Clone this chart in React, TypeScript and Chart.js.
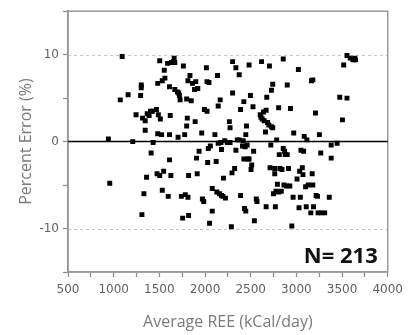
import React, { useEffect, useRef } from "react";
import { Chart, registerables } from "chart.js";

Chart.register(...registerables);

// Average REE (kCal/day)
const reeValues: number[] = [
  942, 957, 1093, 1072, 1158, 1209, 1245, 1302, 1302, 1295, 1309, 1316, 1331, 1345, 1345, 1360, 1367, 1388, 1403, 1410,
  1424, 1432, 1468, 1475, 1489, 1482, 1504, 1504, 1511, 1482, 1525, 1532, 1547, 1532, 1554, 1561, 1590, 1597, 1611, 1611,
  1611, 1619, 1626, 1633, 1655, 1662, 1669, 1669, 1698, 1705, 1712, 1720, 1727, 1741, 1755, 1763, 1777, 1784, 1799, 1799,
  1806, 1813, 1813, 1820, 1820, 1835, 1849, 1863, 1885, 1892, 1899, 1907, 1914, 1921, 1935, 1964, 1971, 1986, 1993, 2015,
  2022, 2022, 2029, 2036, 2043, 2050, 2058, 2079, 2079, 2108, 2122, 2129, 2137, 2144, 2144, 2158, 2166, 2173, 2180, 2180,
  2195, 2202, 2216, 2223, 2245, 2266, 2274, 2274, 2288, 2295, 2302, 2302, 2324, 2338, 2338, 2353, 2374, 2374, 2389, 2389,
  2410, 2417, 2425, 2425, 2432, 2439, 2446, 2446, 2454, 2461, 2468, 2482, 2482, 2497, 2504, 2511, 2525, 2532, 2540, 2561,
  2569, 2604, 2612, 2619, 2626, 2640, 2648, 2662, 2669, 2669, 2676, 2684, 2698, 2705, 2712, 2720, 2727, 2727, 2741, 2741,
  2749, 2763, 2763, 2770, 2777, 2784, 2792, 2806, 2806, 2813, 2820, 2835, 2842, 2856, 2856, 2864, 2871, 2878, 2892, 2900,
  2900, 2914, 2928, 2935, 2950, 2964, 2971, 3007, 3022, 3029, 3036, 3043, 3050, 3065, 3072, 3079, 3086, 3101, 3108, 3115,
  3130, 3158, 3165, 3180, 3173, 3180, 3187, 3209, 3216, 3231, 3238, 3252, 3267, 3274, 3310, 3360, 3381, 3381, 3446, 3475,
  3504, 3518, 3554, 3554, 3590, 3619, 3640, 3647,
];

// Percent Error (%)
const errorValues: number[] = [
  0.3, -4.8, 9.8, 4.8, 5.4, 0.0, 3.1, 6.5, 6.2, 5.3, -8.4, 2.7, -6.0, 2.4, 1.3, -4.1, 3.2, 3.0, 3.5, -1.3,
  3.5, -0.1, 3.7, -3.7, 3.1, 6.7, 9.3, -3.9, 2.6, 0.9, 0.8, 7.0, -3.4, -5.6, 8.2, 7.3, 9.0, -6.3, 6.3, -2.1,
  0.8, 3.0, -3.9, 9.1, 9.2, 9.6, 9.1, 6.0, 5.7, 0.5, 5.6, 5.3, 4.8, -6.3, -8.8, 8.7, 0.8, -6.1, 1.8, 4.9,
  2.7, 7.0, -6.4, -8.5, -3.9, 7.6, 4.7, 6.7, 6.0, 2.3, 6.9, -1.9, -3.7, 6.1, -1.1, 1.0, -6.6, -6.9, 3.7, 8.5,
  6.9, 3.5, -2.4, -0.8, 6.8, -9.4, -0.5, -8.0, -5.4, 0.8, -2.3, -5.8, 7.6, 4.1, -0.2, -6.0, 4.8, -0.1, -0.9, -6.2,
  -6.3, -4.2, 0.1, -6.5, -0.1, 2.3, 1.6, -0.1, -9.8, -3.6, 9.2, 5.6, -3.1, 8.5, -1.0, 0.2, 0.2, 7.7, 3.7, -6.2,
  -0.5, 0.1, 4.6, -2.0, -7.7, -0.6, -8.0, 0.8, 1.8, -0.4, -2.0, 8.8, -2.0, 5.3, -3.2, -2.7, 4.0, -1.1, -9.1, -6.6,
  -6.9, 3.1, 2.8, 9.2, 2.6, 3.4, 2.4, 1.1, 3.6, -7.5, 5.1, 2.2, 1.9, 8.7, -3.0, -0.4, 5.9, 1.7, 6.6, 1.6,
  -6.0, -3.7, -3.1, -7.5, -5.7, 0.2, -4.9, 3.9, -5.8, -1.5, -3.1, -5.7, -3.2, 9.5, -0.8, -5.0, -1.1, -1.5, -5.1, 6.5,
  -1.5, -3.1, -5.1, 3.8, -9.7, -6.4, 1.0, -4.3, 8.3, -7.6, -3.4, -6.4, -1.0, -3.0, -3.8, -1.1, 0.6, -5.2, -7.5, 0.2,
  -5.0, -8.2, 7.0, 7.1, -3.7, -5.0, -7.5, 3.3, -6.2, -6.3, -8.2, 0.8, -1.3, -8.2, -8.2, -6.4, -0.4, -1.9, -0.2, 5.1,
  2.5, 8.8, 5.0, 9.9, 9.6, 9.4, 9.6, 9.4,
];

const xTickLabels: number[] = [500, 1000, 1500, 2000, 2500, 3000, 3500, 4000];
const yTickLabels: number[] = [-10, 0, 10];
const sampleLabel = "N= 213";
const xTitle = "Average REE (kCal/day)";
const yTitle = "Percent Error (%)";

const decorPlugin = {
  id: "decor",
  beforeDatasetsDraw(chart: any) {
    const { ctx, chartArea, scales } = chart;
    ctx.save();
    // dashed reference lines at the labelled +/-10 ticks
    ctx.strokeStyle = "#c4c4c4";
    ctx.lineWidth = 1;
    ctx.setLineDash([3, 3]);
    for (const v of yTickLabels) {
      if (v === 0) continue;
      const yy = Math.round(scales.y.getPixelForValue(v)) + 0.5;
      ctx.beginPath();
      ctx.moveTo(chartArea.left, yy);
      ctx.lineTo(chartArea.right, yy);
      ctx.stroke();
    }
    ctx.setLineDash([]);
    // frame
    ctx.strokeStyle = "#9a9a9a";
    ctx.lineWidth = 1.5;
    ctx.strokeRect(chartArea.left, chartArea.top, chartArea.right - chartArea.left, chartArea.bottom - chartArea.top);
    // zero line
    const y0 = scales.y.getPixelForValue(0);
    ctx.strokeStyle = "#000";
    ctx.lineWidth = 1.5;
    ctx.beginPath();
    ctx.moveTo(chartArea.left, y0);
    ctx.lineTo(chartArea.right, y0);
    ctx.stroke();
    ctx.restore();
  },
  afterDatasetsDraw(chart: any) {
    const { ctx, chartArea } = chart;
    ctx.save();
    ctx.fillStyle = "#111";
    ctx.font = "bold 22px 'Open Sans'";
    ctx.textAlign = "right";
    ctx.textBaseline = "alphabetic";
    ctx.fillText(sampleLabel, chartArea.right - 10, chartArea.bottom - 9);
    ctx.restore();
  },
};

export default function App() {
  const ref = useRef<HTMLCanvasElement | null>(null);
  useEffect(() => {
    document.body.style.margin = "0";
    if (!ref.current) return;
    const points = reeValues.map((x, i) => ({ x, y: errorValues[i] }));
    const chart = new Chart(ref.current, {
      type: "scatter",
      data: {
        datasets: [
          {
            data: points,
            pointStyle: "rect",
            radius: 3.5,
            backgroundColor: "#000",
            borderColor: "#000",
            borderWidth: 0,
          },
        ],
      },
      options: {
        animation: false,
        responsive: false,
        layout: { padding: { top: 8, right: 16, left: 0, bottom: 0 } },
        plugins: { legend: { display: false }, tooltip: { enabled: false } },
        scales: {
          x: {
            type: "linear",
            min: 500,
            max: 4000,
            afterFit: (s: any) => {
              s.height = 63;
            },
            ticks: {
              stepSize: 250,
              autoSkip: false,
              maxRotation: 0,
              color: "#606060",
              font: { family: "DejaVu Sans", size: 12 },
              padding: 6,
              callback: (v: any) => (xTickLabels.includes(Number(v)) ? String(v) : ""),
            },
            grid: {
              drawOnChartArea: false,
              drawTicks: true,
              tickLength: 5,
              tickColor: "#888",
              tickWidth: 1.2,
            },
            border: { display: true, color: "#8a8a8a", width: 1.5 },
            title: {
              display: true,
              text: xTitle,
              color: "#7a7a7a",
              font: { family: "Open Sans", size: 16 },
              padding: { top: 0, bottom: 3 },
            },
          },
          y: {
            type: "linear",
            min: -15,
            max: 15,
            afterFit: (s: any) => {
              s.width = 68;
            },
            ticks: {
              stepSize: 5,
              autoSkip: false,
              color: "#606060",
              font: { family: "DejaVu Sans", size: 12 },
              padding: 4,
              callback: (v: any) => (yTickLabels.includes(Number(v)) ? String(v) : ""),
            },
            grid: {
              drawOnChartArea: false,
              drawTicks: true,
              tickLength: 5,
              tickColor: "#888",
              tickWidth: 1.2,
            },
            border: { display: true, color: "#8a8a8a", width: 1.5 },
            title: {
              display: true,
              text: yTitle,
              color: "#7a7a7a",
              font: { family: "Open Sans", size: 16 },
              padding: { top: 17, bottom: 0 },
            },
          },
        },
      },
      plugins: [decorPlugin],
    });
    return () => chart.destroy();
  }, []);
  return <canvas ref={ref} width={409} height={335} style={{ display: "block" }} />;
}
